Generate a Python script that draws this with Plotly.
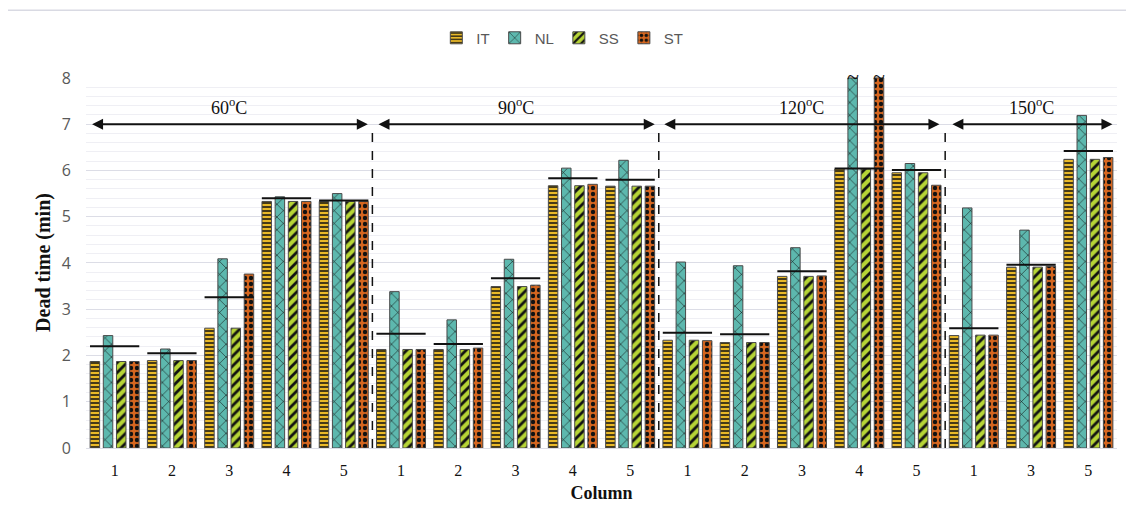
import plotly.graph_objects as go

# ---- data ----
tick_labels = ["1", "2", "3", "4", "5",
               "1", "2", "3", "4", "5",
               "1", "2", "3", "4", "5",
               "1", "3", "5"]
IT = [1.87, 1.89, 2.59, 5.33, 5.33,
      2.13, 2.13, 3.49, 5.67, 5.66,
      2.33, 2.28, 3.71, 6.03, 5.95,
      2.43, 3.91, 6.24]
NL = [2.43, 2.14, 4.09, 5.43, 5.50,
      3.38, 2.77, 4.08, 6.05, 6.22,
      4.02, 3.94, 4.33, 8.00, 6.15,
      5.19, 4.71, 7.19]
SS = [1.87, 1.89, 2.59, 5.33, 5.33,
      2.13, 2.13, 3.49, 5.67, 5.66,
      2.33, 2.28, 3.71, 6.03, 5.95,
      2.44, 3.91, 6.24]
ST = [1.87, 1.89, 3.76, 5.33, 5.33,
      2.13, 2.16, 3.52, 5.70, 5.66,
      2.32, 2.28, 3.72, 8.00, 5.68,
      2.44, 3.93, 6.28]
MEAN = [2.20, 2.05, 3.26, 5.40, 5.35,
        2.47, 2.25, 3.67, 5.83, 5.80,
        2.49, 2.46, 3.82, 6.04, 6.01,
        2.59, 3.96, 6.42]
temps = ["60<sup>o</sup>C", "90<sup>o</sup>C", "120<sup>o</sup>C", "150<sup>o</sup>C"]
temp_centers = [2.0, 7.0, 12.0, 16.0]
temp_spans = [(-0.42, 4.42), (4.58, 9.43), (9.57, 14.4), (14.6, 17.42)]
dividers = [4.5, 9.5, 14.5]
broken = [(13, "NL"), (13, "ST")]

series = [
    ("IT", IT, "#E9B928", "-", 4, 0.38),
    ("NL", NL, "#5DB8AE", "x", 9, 0.12),
    ("SS", SS, "#B6D436", "/", 7, 0.40),
    ("ST", ST, "#D5661F", ".", 6, 0.42),
]

x = list(range(len(tick_labels)))
fig = go.Figure()
for name, vals, col, shp, sz, sol in series:
    fig.add_trace(go.Bar(
        x=x, y=vals, name=name,
        marker=dict(color=col,
                    line=dict(color="#4a4a4a", width=1),
                    pattern=dict(shape=shp, fgcolor="#111111", bgcolor=col,
                                 size=sz, solidity=sol, fillmode="replace")),
    ))

# mean lines
mx, my = [], []
for i, m in enumerate(MEAN):
    mx += [i - 0.43, i + 0.43, None]
    my += [m, m, None]
fig.add_trace(go.Scatter(x=mx, y=my, mode="lines", showlegend=False,
                         line=dict(color="#111111", width=2), hoverinfo="skip"))

shapes = []
for d in dividers:
    shapes.append(dict(type="line", xref="x", yref="y", x0=d, x1=d, y0=0, y1=7,
                       line=dict(color="#111111", width=1.5, dash="dash")))
# outer frame
shapes.append(dict(type="rect", xref="paper", yref="paper",
                   x0=-0.078, x1=1.03, y0=-0.3, y1=1.18,
                   line=dict(color="#D9DAE3", width=1.5), layer="below"))

annotations = []
for (a, b) in temp_spans:
    annotations.append(dict(x=b, y=7, ax=a, ay=7, xref="x", yref="y",
                            axref="x", ayref="y", text="", showarrow=True,
                            arrowhead=2, arrowside="end+start", arrowsize=1.1,
                            arrowwidth=2, arrowcolor="#111111",
                            startarrowhead=2, startarrowsize=1.1))
for t, c in zip(temps, temp_centers):
    annotations.append(dict(x=c, y=7.38, xref="x", yref="y", text=t,
                            showarrow=False,
                            font=dict(family="Liberation Serif", size=18, color="#111111")))
offsets = {"IT": -0.345, "NL": -0.115, "SS": 0.115, "ST": 0.345}
for idx, nm in broken:
    annotations.append(dict(x=idx + offsets[nm], y=8.0, xref="x", yref="y", text="~",
                            showarrow=False, yanchor="middle", yshift=1,
                            font=dict(family="Liberation Serif", size=22, color="#111111")))

fig.update_layout(
    width=1126, height=519,
    margin=dict(l=78, r=17, t=69, b=79),
    paper_bgcolor="white", plot_bgcolor="white",
    barmode="group", bargap=0.08, bargroupgap=0.28,
    shapes=shapes, annotations=annotations,
    legend=dict(orientation="h", x=0.462, xanchor="center", y=1.105, yanchor="middle",
                font=dict(family="Liberation Sans", size=15, color="#595959"),
                itemwidth=30, traceorder="normal"),
    xaxis=dict(tickmode="array", tickvals=x, ticktext=tick_labels,
               range=[-0.5, len(x) - 0.5], showgrid=False, zeroline=False,
               ticks="", showline=False, ticklabelstandoff=11,
               tickfont=dict(family="Liberation Serif", size=16, color="#111111"),
               title=dict(text="<b>Column</b>", standoff=8,
                          font=dict(family="Liberation Serif", size=18, color="#111111"))),
    yaxis=dict(range=[0, 8.02], dtick=1, tick0=0, showgrid=True,
               gridcolor="#DCDDE6", gridwidth=1, zeroline=True,
               zerolinecolor="#DCDDE6", zerolinewidth=1,
               minor=dict(dtick=0.2, showgrid=True, gridcolor="#EFEFF4", gridwidth=1),
               ticks="", showline=False, ticklabelstandoff=14,
               tickfont=dict(family="Open Sans", size=16, color="#595959"),
               title=dict(text="<b>Dead time (min)</b>", standoff=5,
                          font=dict(family="Liberation Serif", size=20, color="#111111"))),
)

fig.write_html("out.html")
